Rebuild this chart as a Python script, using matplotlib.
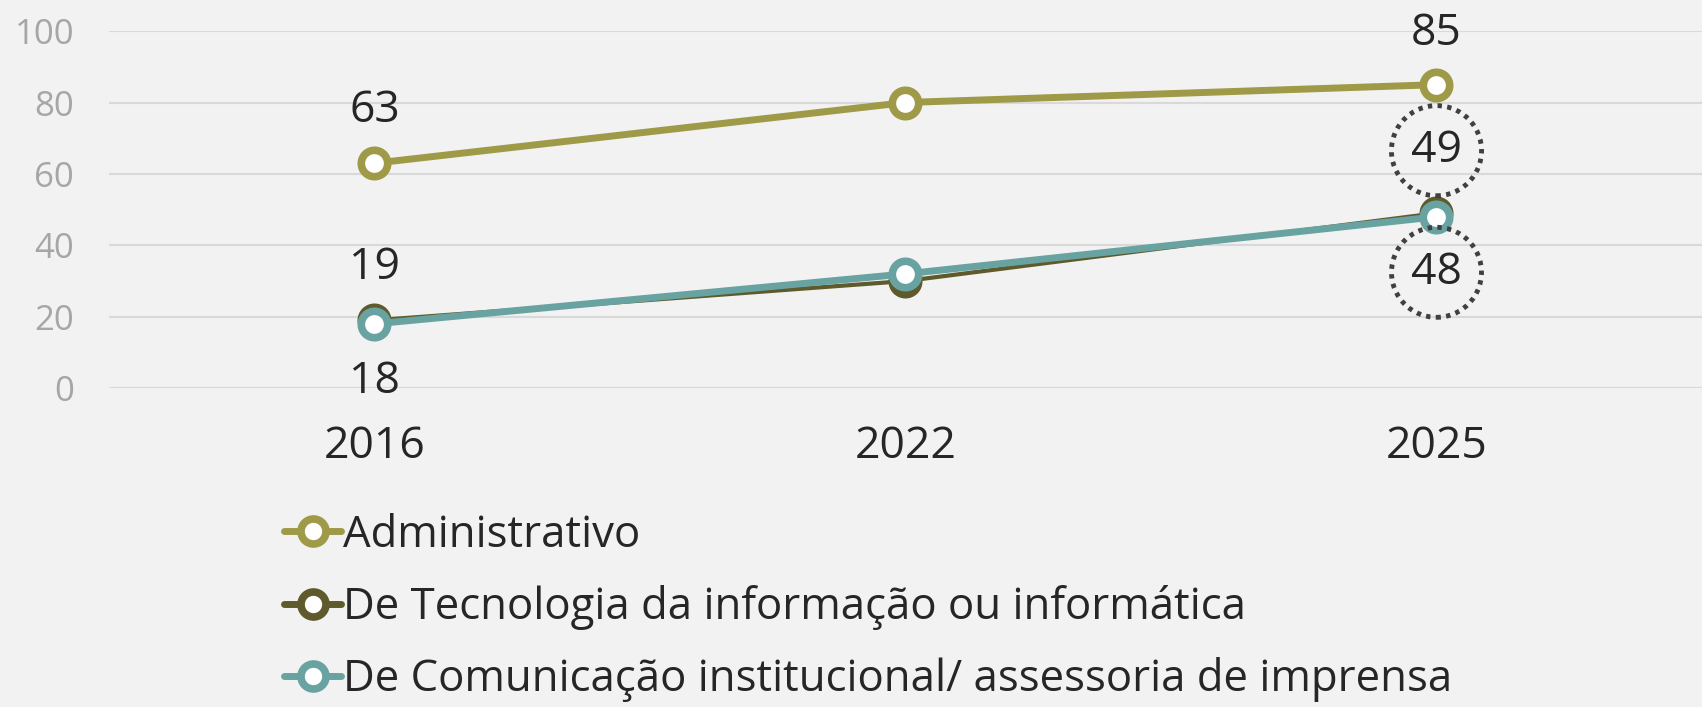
import matplotlib.pyplot as plt

plt.rcParams['font.family'] = ['Open Sans', 'DejaVu Sans']

# data
years = ['2016', '2022', '2025']
administrativo = [63, 80, 85]
tecnologia = [19, 30, 49]
comunicacao = [18, 32, 48]
series_names = ['Administrativo',
                'De Tecnologia da informação ou informática',
                'De Comunicação institucional/ assessoria de imprensa']

BG = '#F2F2F2'
COLORS = ['#9E9A48', '#5E5A2B', '#68A3A1']
TEXT = '#262626'

fig = plt.figure(figsize=(17.02, 7.07), dpi=100, facecolor=BG)
ax = fig.add_axes([0.064, 0.451, 0.936, 0.505], facecolor=BG)

x = range(len(years))
widths = [5, 3, 5]
lines = []
for vals, col, lw, name in zip([administrativo, tecnologia, comunicacao],
                               COLORS, widths, series_names):
    ln, = ax.plot(x, vals, color=col, lw=lw, marker='o', ms=19,
                  mfc='white', mec=col, mew=5.5, clip_on=False,
                  solid_capstyle='round', label=name, zorder=3)
    lines.append(ln)

ax.set_xlim(-0.5, 2.5)
ax.set_ylim(0, 100)
ax.set_yticks(range(0, 101, 20))
ax.set_xticks(list(x))
ax.set_xticklabels(years)
ax.tick_params(axis='y', length=0, pad=25, labelsize=25, labelcolor='#A6A6A6')
ax.tick_params(axis='x', length=0, pad=26, labelsize=32, labelcolor=TEXT)
ax.grid(axis='y', color='#D9D9D9', lw=1.5)
ax.set_axisbelow(True)
for s in ax.spines.values():
    s.set_visible(False)

# data labels
lab = dict(fontsize=32, color=TEXT, ha='center', va='center',
           textcoords='offset points', annotation_clip=False)
ax.annotate(str(administrativo[0]), (0, administrativo[0]), xytext=(0, 38), **lab)
ax.annotate(str(tecnologia[0]), (0, tecnologia[0]), xytext=(0, 38), **lab)
ax.annotate(str(comunicacao[0]), (0, comunicacao[0]), xytext=(0, -42), **lab)
ax.annotate(str(administrativo[2]), (2, administrativo[2]), xytext=(0, 37), **lab)

# highlighted labels with dotted circles
circ = dict(boxstyle='circle,pad=0.44', fc='none', ec='#404040', lw=3.5,
            ls=(0, (0.9, 1.1)))
ax.annotate(str(tecnologia[2]), (2, tecnologia[2]), xytext=(0, 45),
            bbox=circ, **lab)
ax.annotate(str(comunicacao[2]), (2, comunicacao[2]), xytext=(0, -40),
            bbox=circ, **lab)

leg = fig.legend(handles=lines, loc='upper left', bbox_to_anchor=(0.167, 0.274),
                 frameon=False, fontsize=31.5, handlelength=1.3,
                 handletextpad=0.05, labelspacing=0.62, labelcolor=TEXT,
                 borderaxespad=0, borderpad=0)
for h in leg.legend_handles:
    h.set_markersize(18)
    h.set_linewidth(5)

fig.savefig('out.png', dpi=100, facecolor=BG)
